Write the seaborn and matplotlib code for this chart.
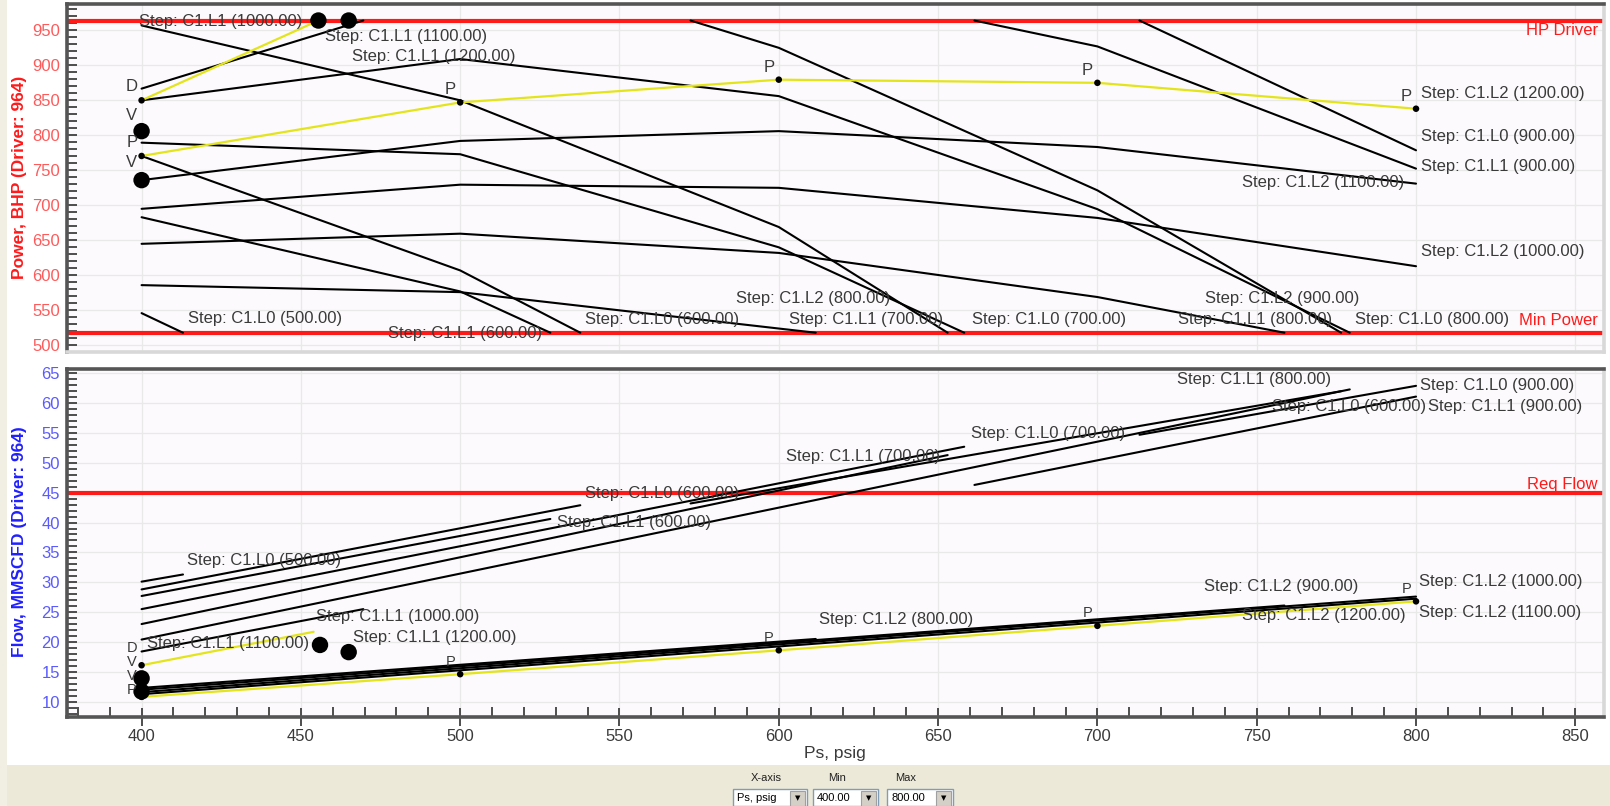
import matplotlib
matplotlib.use("Agg")
import matplotlib.pyplot as plt
import pandas as pd
import seaborn as sns
from matplotlib.ticker import MultipleLocator
from matplotlib.patches import Rectangle

# ---------------- data ----------------
hp_driver = 964
min_power = 518
req_flow = 45

# Power, BHP vs Ps (top panel): (Ps, BHP) points
pw_c1l0_500 = [(400, 546), (413, 518)]
pw_c1l0_600 = [(400, 770.5), (500, 607), (537.7, 518)]
pw_c1l1_600 = [(400, 683), (500, 577), (528.3, 518)]
pw_c1l1_700 = [(400, 957), (500, 850), (600, 669), (653, 518)]
pw_c1l0_700 = [(400, 789.5), (500, 773), (600, 640), (658.2, 518)]
pw_c1l0_800 = [(400, 850), (500, 909), (600, 856), (700, 694.5), (779.2, 518)]
pw_c1l1_800 = [(572.3, 964), (600, 925), (700, 721.4), (776.5, 518)]
pw_c1l1_900 = [(661.4, 964), (700, 927), (800, 752.4)]
pw_c1l0_900 = [(713.2, 964), (800, 778.6)]
pw_c1l1_1100 = [(400, 866.7), (469.6, 964)]
pw_c1l2_800 = [(400, 586), (500, 576), (600, 524), (611.6, 518)]
pw_c1l2_900 = [(400, 645), (500, 659.5), (600, 632), (700, 569), (758.7, 518)]
pw_c1l2_1000 = [(400, 695), (500, 729.5), (600, 725), (700, 682), (800, 613)]
pw_c1l2_1100 = [(400, 736), (500, 792), (600, 806), (700, 783.3), (800, 731)]
pw_c1l1_1000 = [(400, 850), (455.5, 964)]                                  # highlighted
pw_c1l2_1200 = [(400, 770.5), (500, 847), (600, 879.5), (700, 875), (800, 838)]  # highlighted

# Flow, MMSCFD vs Ps (bottom panel)
fl_c1l0_500 = [(400, 30.1), (413, 31.3)]
fl_c1l0_600 = [(400, 28.8), (537.7, 42.9)]
fl_c1l1_600 = [(400, 27.7), (528.3, 40.6)]
fl_c1l0_700 = [(400, 25.5), (658.2, 52.7)]
fl_c1l1_700 = [(400, 23.0), (653, 51.3)]
fl_c1l0_800 = [(400, 20.4), (779.2, 62.3)]
fl_c1l1_800 = [(572.3, 43.2), (776.5, 62.0)]
fl_c1l1_900 = [(661.4, 46.3), (800, 61.1)]
fl_c1l0_900 = [(713.2, 54.7), (800, 62.9)]
fl_c1l1_1100 = [(400, 18.4), (469.6, 25.5)]
fl_c1l2_800 = [(400, 12.3), (611.6, 20.5)]
fl_c1l2_900 = [(400, 12.0), (758.7, 26.1)]
fl_c1l2_1000 = [(400, 11.6), (800, 27.6)]
fl_c1l2_1100 = [(400, 11.25), (800, 27.25)]
fl_c1l1_1000 = [(400, 16.1), (454, 21.7)]                                   # highlighted
fl_c1l2_1200 = [(400, 10.8), (500, 14.6), (600, 18.6), (700, 22.7), (800, 26.8)]  # highlighted

# large markers (limit / status points)
pw_dot_x = [400, 400, 455.5, 465]
pw_dot_y = [806, 736, 964, 964]
fl_dot_x = [400, 400, 456, 465]
fl_dot_y = [13.9, 11.7, 19.5, 18.3]

# small point markers and their letters
pw_pt_letter = ["D", "V", "P", "V", "P", "P", "P", "P"]
pw_pt_x = [400, 400, 400, 400, 500, 600, 700, 800]
pw_pt_y = [850, 806, 770.5, 736, 847, 879.5, 875, 838]
fl_pt_letter = ["D", "V", "V", "P", "P", "P", "P", "P"]
fl_pt_x = [400, 400, 400, 400, 500, 600, 700, 800]
fl_pt_y = [16.1, 13.9, 11.7, 10.8, 14.6, 18.6, 22.7, 26.8]

# curve labels
pw_lab_text = ["Step: C1.L1 (1000.00)", "Step: C1.L1 (1100.00)", "Step: C1.L1 (1200.00)",
               "Step: C1.L0 (500.00)", "Step: C1.L1 (600.00)", "Step: C1.L0 (600.00)",
               "Step: C1.L2 (800.00)", "Step: C1.L1 (700.00)", "Step: C1.L0 (700.00)",
               "Step: C1.L2 (900.00)", "Step: C1.L1 (800.00)", "Step: C1.L0 (800.00)",
               "Step: C1.L2 (1100.00)", "Step: C1.L2 (1200.00)", "Step: C1.L0 (900.00)",
               "Step: C1.L1 (900.00)", "Step: C1.L2 (1000.00)"]
pw_lab_x = [399.3, 457.6, 466, 414.7, 477.5, 539.3, 586.7, 603.2, 660.5,
            733.8, 725.2, 780.7, 745.4, 801.5, 801.5, 801.5, 801.5]
pw_lab_y = [962.9, 941.4, 912, 538, 517.6, 536.7, 567, 536.7, 536.7,
            566.7, 536.7, 536.7, 731.9, 860, 798, 755, 633.7]

fl_lab_text = ["Step: C1.L0 (500.00)", "Step: C1.L1 (1000.00)", "Step: C1.L1 (1100.00)",
               "Step: C1.L1 (1200.00)", "Step: C1.L0 (600.00)", "Step: C1.L1 (600.00)",
               "Step: C1.L1 (700.00)", "Step: C1.L0 (700.00)", "Step: C1.L2 (800.00)",
               "Step: C1.L1 (800.00)", "Step: C1.L0 (900.00)", "Step: C1.L0 (600.00)",
               "Step: C1.L1 (900.00)", "Step: C1.L2 (900.00)", "Step: C1.L2 (1000.00)",
               "Step: C1.L2 (1200.00)", "Step: C1.L2 (1100.00)"]
fl_lab_x = [414.4, 454.7, 401.8, 466.3, 539.1, 530.4, 602.4, 660.3, 612.7,
            725.1, 801.1, 754.8, 803.8, 733.4, 800.8, 745.5, 800.8]
fl_lab_y = [33.7, 24.2, 19.7, 20.7, 44.8, 40.0, 51.0, 54.95, 23.7,
            63.9, 63.0, 59.4, 59.4, 29.3, 30.1, 24.5, 24.9]

# ---------------- build long tables ----------------
pw_black = {"c1l0_500": pw_c1l0_500, "c1l0_600": pw_c1l0_600, "c1l1_600": pw_c1l1_600,
            "c1l1_700": pw_c1l1_700, "c1l0_700": pw_c1l0_700, "c1l0_800": pw_c1l0_800,
            "c1l1_800": pw_c1l1_800, "c1l1_900": pw_c1l1_900, "c1l0_900": pw_c1l0_900,
            "c1l1_1100": pw_c1l1_1100, "c1l2_800": pw_c1l2_800, "c1l2_900": pw_c1l2_900,
            "c1l2_1000": pw_c1l2_1000, "c1l2_1100": pw_c1l2_1100}
pw_yellow = {"c1l1_1000": pw_c1l1_1000, "c1l2_1200": pw_c1l2_1200}
fl_black = {"c1l0_500": fl_c1l0_500, "c1l0_600": fl_c1l0_600, "c1l1_600": fl_c1l1_600,
            "c1l1_700": fl_c1l1_700, "c1l0_700": fl_c1l0_700, "c1l0_800": fl_c1l0_800,
            "c1l1_800": fl_c1l1_800, "c1l1_900": fl_c1l1_900, "c1l0_900": fl_c1l0_900,
            "c1l1_1100": fl_c1l1_1100, "c1l2_800": fl_c1l2_800, "c1l2_900": fl_c1l2_900,
            "c1l2_1000": fl_c1l2_1000, "c1l2_1100": fl_c1l2_1100}
fl_yellow = {"c1l1_1000": fl_c1l1_1000, "c1l2_1200": fl_c1l2_1200}


def to_long(d):
    rows = []
    for name, pts in d.items():
        for i, (x, y) in enumerate(pts):
            rows.append({"series": name, "order": i, "x": x, "y": y})
    return pd.DataFrame(rows)


# ---------------- figure ----------------
sns.set_theme(style="white")
plt.rcParams['font.family'] = ['Liberation Sans', 'DejaVu Sans']

W, H = 1610, 806
fig = plt.figure(figsize=(W / 100, H / 100), dpi=100)
fig.patch.set_facecolor("white")

L, R = 66.7, 1604
ax_top = fig.add_axes([L / W, 1 - 351.7 / H, (R - L) / W, (351.7 - 4) / H])
ax_bot = fig.add_axes([L / W, 1 - 716.7 / H, (R - L) / W, (716.7 - 369.3) / H])

XLIM = (376.5, 859.0)
BLACK = "#000000"
YELLOW = "#E4E41A"
RED = "#FF1A1A"
TXT = "#3A3A3A"

# letter offsets (points above the marker), per marker
pw_letter_dy = [10, 11, 9.5, 13, 9, 9, 9, 9]
fl_letter_dy = [12.5, 11.9, 11.3, 5, 9, 9, 9, 9]

panels = [
    (ax_top, pw_black, pw_yellow, hp_driver, min_power, pw_dot_x, pw_dot_y,
     pw_pt_letter, pw_pt_x, pw_pt_y, pw_letter_dy, 12, pw_lab_text, pw_lab_x, pw_lab_y),
    (ax_bot, fl_black, fl_yellow, req_flow, None, fl_dot_x, fl_dot_y,
     fl_pt_letter, fl_pt_x, fl_pt_y, fl_letter_dy, 10.5, fl_lab_text, fl_lab_x, fl_lab_y),
]

for (ax, blk, yel, lim1, lim2, dx, dy, letters, px, py, ldy, lfs, lt, lx, ly) in panels:
    ax.set_facecolor("#FCFAFC")
    ax.axhline(lim1, color=RED, lw=3.0, zorder=2)
    if lim2 is not None:
        ax.axhline(lim2, color=RED, lw=3.0, zorder=2)
    sns.lineplot(data=to_long(blk), x="x", y="y", units="series", estimator=None,
                 sort=False, color=BLACK, lw=1.5, legend=False, ax=ax, zorder=3)
    sns.lineplot(data=to_long(yel), x="x", y="y", units="series", estimator=None,
                 sort=False, color=YELLOW, lw=1.6, legend=False, ax=ax, zorder=4)
    sns.scatterplot(x=px, y=py, color=BLACK, s=22, edgecolor="none", ax=ax, zorder=5)
    sns.scatterplot(x=dx, y=dy, color=BLACK, s=140, edgecolor="none", ax=ax, zorder=6)
    for t, xx, yy, oy in zip(letters, px, py, ldy):
        ax.annotate(t, (xx, yy), xytext=(-7, oy), textcoords="offset points",
                    ha="center", va="center", fontsize=lfs, color=TXT, zorder=7)
    for t, xx, yy in zip(lt, lx, ly):
        ax.text(xx, yy, t, ha="left", va="center", fontsize=12, color=TXT, zorder=7)
    ax.set_xlim(*XLIM)
    ax.xaxis.set_major_locator(MultipleLocator(50))
    ax.grid(True, which="major", color="#E9E9E9", lw=0.9)
    ax.set_axisbelow(True)
    ax.set_ylabel("")
    for s in ("top", "left"):
        ax.spines[s].set_color("#555555")
        ax.spines[s].set_linewidth(2.6)
    for s in ("right", "bottom"):
        ax.spines[s].set_color("#D8D8D8")
        ax.spines[s].set_linewidth(2.6)

# top panel axes
ax_top.set_ylim(490.9, 987.6)
ax_top.yaxis.set_major_locator(MultipleLocator(50))
ax_top.yaxis.set_minor_locator(MultipleLocator(10))
ax_top.tick_params(axis="y", which="both", direction="in", left=True, length=7,
                   width=1.3, color="#404040", labelsize=12, labelcolor="#FF5A5A", pad=5)
ax_top.tick_params(axis="x", which="both", bottom=False, labelbottom=False)
ax_top.set_xlabel("")
ax_top.text(857, hp_driver - 14.6, "HP Driver", ha="right", va="center", fontsize=12, color=RED)
ax_top.text(857, min_power + 17, "Min Power", ha="right", va="center", fontsize=12, color=RED)

# bottom panel axes
ax_bot.set_ylim(7.48, 65.67)
ax_bot.yaxis.set_major_locator(MultipleLocator(5))
ax_bot.yaxis.set_minor_locator(MultipleLocator(1))
ax_bot.xaxis.set_minor_locator(MultipleLocator(10))
ax_bot.tick_params(axis="y", which="both", direction="in", left=True, length=7,
                   width=1.3, color="#404040", labelsize=12, labelcolor="#5A5AFF", pad=5)
ax_bot.tick_params(axis="x", which="major", direction="inout", bottom=True, length=13,
                   width=1.3, color="#404040", labelsize=12, labelcolor=TXT, pad=2)
ax_bot.tick_params(axis="x", which="minor", direction="in", bottom=True, length=7,
                   width=1.3, color="#404040")
ax_bot.spines["bottom"].set_color("#555555")
ax_bot.set_xlabel("Ps, psig", fontsize=12.5, color=TXT, labelpad=2)
ax_bot.text(857, req_flow + 1.3, "Req Flow", ha="right", va="center", fontsize=12, color=RED)

# y-axis titles
fig.text(19.6 / W, 1 - 177 / H, "Power, BHP (Driver: 964)", rotation=90, ha="center",
         va="center", fontsize=12.5, fontweight="bold", color="#FF1A1A")
fig.text(19.6 / W, 1 - 541.7 / H, "Flow, MMSCFD (Driver: 964)", rotation=90, ha="center",
         va="center", fontsize=12.5, fontweight="bold", color="#2020FF")

# ---------------- control strip (x-axis selector) ----------------
def frect(x0, y0, x1, y1, **kw):
    r = Rectangle((x0 / W, 1 - y1 / H), (x1 - x0) / W, (y1 - y0) / H,
                  transform=fig.transFigure, figure=fig, **kw)
    fig.patches.append(r)

frect(0, 765, W, H, facecolor="#ECE9D8", edgecolor="none", zorder=0)
frect(0, 0, 7, H, facecolor="#F1EFE4", edgecolor="none", zorder=0)

for cx, lab in [(766.7, "X-axis"), (837, "Min"), (906, "Max")]:
    fig.text(cx / W, 1 - 778 / H, lab, ha="center", va="center", fontsize=8, color="#222222")

for (x0, x1, val) in [(732.7, 806.7, "Ps, psig"), (813, 878, "400.00"), (887, 953, "800.00")]:
    frect(x0, 789, x1, 806, facecolor="white", edgecolor="#7F9DB9", lw=1, zorder=1)
    frect(x1 - 17, 791, x1 - 2, 806, facecolor="#D4D0C8", edgecolor="#A0A0A0", lw=0.8, zorder=2)
    fig.text((x0 + 4) / W, 1 - 798 / H, val, ha="left", va="center", fontsize=8, color="#000000")
    fig.text((x1 - 9.5) / W, 1 - 798.5 / H, "\u25BC", ha="center", va="center",
             fontsize=5, color="#000000", family="DejaVu Sans")

fig.savefig("out.png", dpi=100, facecolor="white")
